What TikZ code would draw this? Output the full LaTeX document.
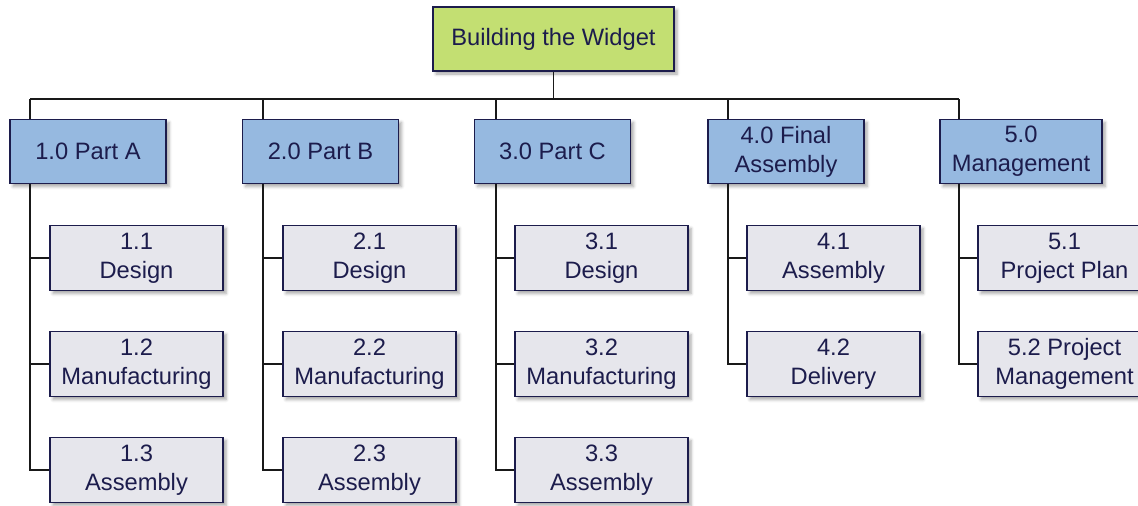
\documentclass[tikz,border=0pt]{standalone}
\usepackage{fontspec}
\setmainfont{Liberation Sans}
\usetikzlibrary{shadows.blur}
\definecolor{navy}{HTML}{1C1C4C}
\definecolor{lvgreen}{HTML}{C3DF72}
\definecolor{lvblue}{HTML}{96B9E0}
\definecolor{lvgray}{HTML}{E6E6EC}
\tikzset{
  box/.style={draw=navy, line width=1.7pt, text=navy, align=center, inner sep=0pt,
    font=\fontsize{23.7}{29}\selectfont,
    blur shadow={shadow xshift=3pt, shadow yshift=-3pt, shadow blur radius=3pt, shadow opacity=35}},
  rootbox/.style={box, fill=lvgreen, minimum width=241pt, minimum height=64pt},
  lvone/.style={box, fill=lvblue, minimum width=156pt, minimum height=64pt},
  lvtwo/.style={box, fill=lvgray, minimum width=173pt, minimum height=65pt},
  wire/.style={draw=black!90, line width=1.9pt},
}
\begin{document}
\begin{tikzpicture}[x=1pt,y=-1pt]
\useasboundingbox (0,0) rectangle (1138,506);
% root
\node[rootbox] (R) at (553.5,39) {Building the Widget};
% level 1
\node[lvone] (A) at (88,151.5) {1.0 Part A};
\node[lvone] (B) at (320.5,151.5) {2.0 Part B};
\node[lvone] (C) at (552.5,151.5) {3.0 Part C};
\node[lvone] (D) at (786,151.5) {4.0 Final\\Assembly};
\node[lvone, minimum width=162pt] (E) at (1021,151.5) {5.0\\Management};
% level 2
\node[lvtwo] (A1) at (136.5,258) {1.1\\Design};
\node[lvtwo] (A2) at (136.5,364) {1.2\\Manufacturing};
\node[lvtwo] (A3) at (136.5,470) {1.3\\Assembly};
\node[lvtwo] (B1) at (369.5,258) {2.1\\Design};
\node[lvtwo] (B2) at (369.5,364) {2.2\\Manufacturing};
\node[lvtwo] (B3) at (369.5,470) {2.3\\Assembly};
\node[lvtwo] (C1) at (601.5,258) {3.1\\Design};
\node[lvtwo] (C2) at (601.5,364) {3.2\\Manufacturing};
\node[lvtwo] (C3) at (601.5,470) {3.3\\Assembly};
\node[lvtwo] (D1) at (833.5,258) {4.1\\Assembly};
\node[lvtwo] (D2) at (833.5,364) {4.2\\Delivery};
\node[lvtwo] (E1) at (1064.5,258) {5.1\\Project Plan};
\node[lvtwo] (E2) at (1064.5,364) {5.2 Project\\Management};
% bus and trunks
\coordinate (bA) at (30,99);
\coordinate (bB) at (263,99);
\coordinate (bC) at (496,99);
\coordinate (bD) at (728,99);
\coordinate (bE) at (959,99);
\draw[wire] (R.south) -- (R.south |- bA);
\draw[wire] (bA) -- (bE);
\foreach \p in {A,B,C,D,E}{
  \draw[wire] (b\p) -- (\p.north -| b\p);
}
\foreach \p/\c in {A/A1,A/A2,A/A3,B/B1,B/B2,B/B3,C/C1,C/C2,C/C3,D/D1,D/D2,E/E1,E/E2}{
  \draw[wire] (\p.south -| b\p) |- (\c.west);
}
\end{tikzpicture}
\end{document}
